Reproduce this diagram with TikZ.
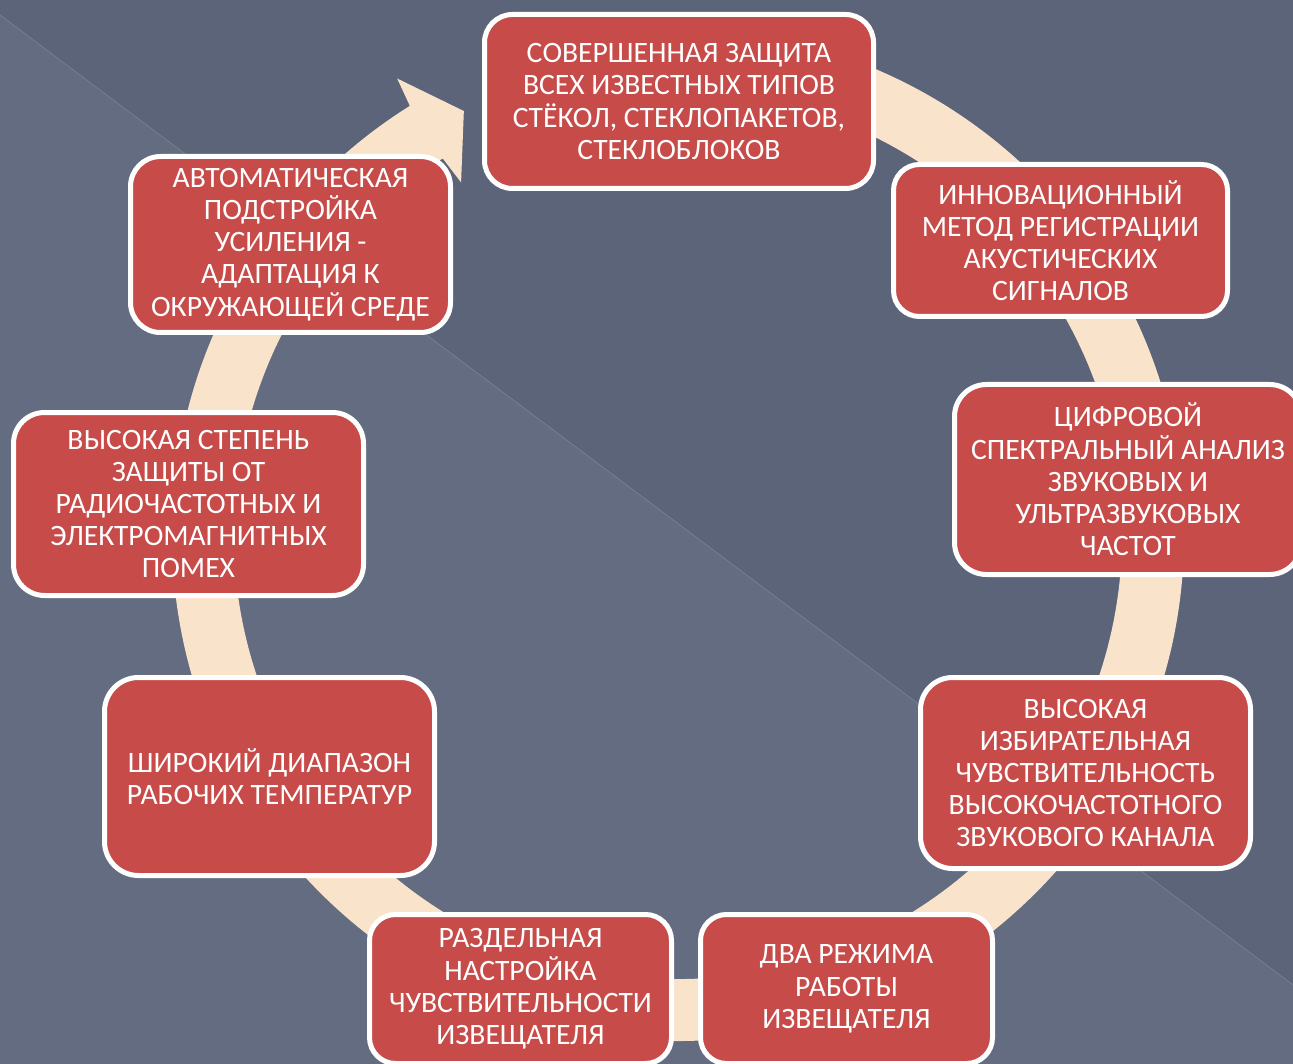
\documentclass[tikz,border=0pt]{standalone}
\usepackage{fontspec}
\setmainfont{Carlito}
\definecolor{bgdark}{RGB}{91,100,121}
\definecolor{bglight}{RGB}{99,108,128}
\definecolor{diagc}{RGB}{118,127,146}
\definecolor{ringc}{RGB}{250,227,203}
\definecolor{boxred}{RGB}{198,75,73}
\tikzset{
  box/.style={draw=white, line width=5pt, fill=boxred, rounded corners=28pt,
    text=white, align=center, inner sep=0pt,
    font=\fontsize{29.6}{32.2}\selectfont},
}
\begin{document}
\begin{tikzpicture}[x=1pt,y=-1pt]
\useasboundingbox (0,0) rectangle (1293,1064);
\clip (0,0) rectangle (1293,1064);
% background
\fill[bgdark] (0,0) rectangle (1293,1064);
\fill[bglight] (0,15) -- (1293,985) -- (1293,1064) -- (0,1064) -- cycle;
\draw[diagc, line width=0.8pt] (0,15) -- (1293,985);
% circular arrow
\begin{scope}[shift={(678,535)}]
\fill[ringc] (-95:506) arc[start angle=-95, end angle=238, radius=506]
  -- (238.4:536) -- (243.2:475) -- (238.4:414) -- (238:444)
  arc[start angle=238, end angle=-95, radius=444] -- cycle;
\end{scope}
% boxes
\node[box, minimum width=389pt, minimum height=174pt] (b1) at (679,101.5)
  {СОВЕРШЕННАЯ ЗАЩИТА\\ВСЕХ ИЗВЕСТНЫХ ТИПОВ\\СТЁКОЛ, СТЕКЛОПАКЕТОВ,\\СТЕКЛОБЛОКОВ};
\node[box, minimum width=334pt, minimum height=152pt, rounded corners=26pt] (b2) at (1060.5,240.5)
  {ИННОВАЦИОННЫЙ\\МЕТОД РЕГИСТРАЦИИ\\АКУСТИЧЕСКИХ\\СИГНАЛОВ};
\node[box, minimum width=347pt, minimum height=190pt, rounded corners=32pt] (b3) at (1128,479.5)
  {ЦИФРОВОЙ\\СПЕКТРАЛЬНЫЙ АНАЛИЗ\\ЗВУКОВЫХ И\\УЛЬТРАЗВУКОВЫХ\\ЧАСТОТ};
\node[box, minimum width=330pt, minimum height=191pt, rounded corners=32pt] (b4) at (1085.5,773)
  {ВЫСОКАЯ\\ИЗБИРАТЕЛЬНАЯ\\ЧУВСТВИТЕЛЬНОСТЬ\\ВЫСОКОЧАСТОТНОГО\\ЗВУКОВОГО КАНАЛА};
\node[box, minimum width=292pt, minimum height=149pt, rounded corners=26pt] (b5) at (846.5,989)
  {ДВА РЕЖИМА\\РАБОТЫ\\ИЗВЕЩАТЕЛЯ};
\node[box, minimum width=302pt, minimum height=149pt, rounded corners=26pt] (b6) at (520.5,989)
  {РАЗДЕЛЬНАЯ\\НАСТРОЙКА\\ЧУВСТВИТЕЛЬНОСТИ\\ИЗВЕЩАТЕЛЯ};
\node[box, minimum width=330pt, minimum height=198pt, rounded corners=34pt] (b7) at (269.5,776.5)
  {ШИРОКИЙ ДИАПАЗОН\\РАБОЧИХ ТЕМПЕРАТУР};
\node[box, minimum width=350pt, minimum height=183pt, rounded corners=31pt] (b8) at (188.5,504)
  {ВЫСОКАЯ СТЕПЕНЬ\\ЗАЩИТЫ ОТ\\РАДИОЧАСТОТНЫХ И\\ЭЛЕКТРОМАГНИТНЫХ\\ПОМЕХ};
\node[box, minimum width=320pt, minimum height=176pt, rounded corners=30pt] (b9) at (290.5,244.5)
  {АВТОМАТИЧЕСКАЯ\\ПОДСТРОЙКА\\УСИЛЕНИЯ -\\АДАПТАЦИЯ К\\ОКРУЖАЮЩЕЙ СРЕДЕ};
\end{tikzpicture}
\end{document}
